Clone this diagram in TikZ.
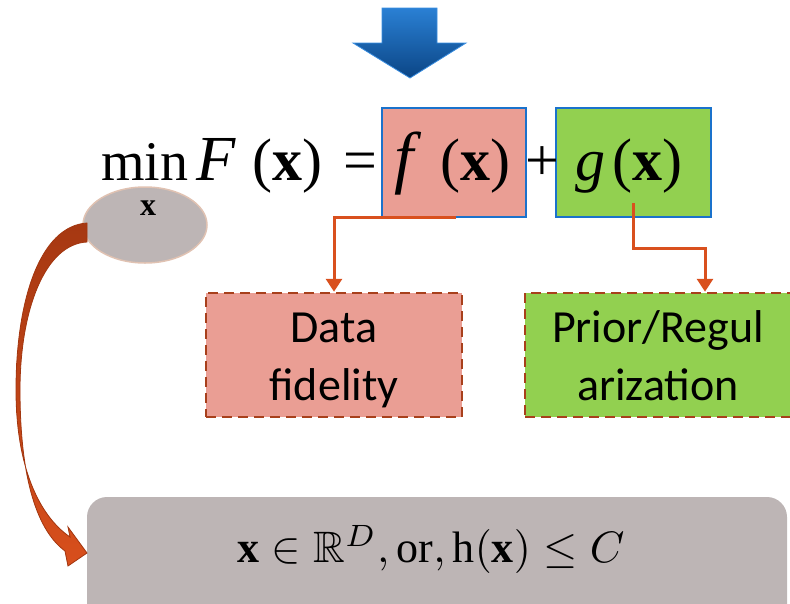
\documentclass[tikz,border=0pt]{standalone}
\usepackage{amssymb}
\usepackage{fontspec}
\setmainfont{Liberation Serif}
\newfontfamily\calfont{Carlito}
\usetikzlibrary{arrows.meta,shapes.geometric}
\definecolor{salmonfill}{HTML}{EA9E94}
\definecolor{greenfill}{HTML}{92D050}
\definecolor{blueborder}{HTML}{1A72CC}
\definecolor{connc}{HTML}{D9501E}
\definecolor{dashc}{HTML}{A8401C}
\definecolor{grayfill}{HTML}{BDB5B5}
\definecolor{ellborder}{HTML}{E0C2B2}
\definecolor{arrtop}{HTML}{2A80D4}
\definecolor{arrbot}{HTML}{0B4585}
\definecolor{arredge}{HTML}{3A8EE0}
\definecolor{ribtop}{HTML}{A63812}
\definecolor{ribbot}{HTML}{D84F1C}
\definecolor{ribedge}{HTML}{A2360F}
\begin{document}
\begin{tikzpicture}[x=1pt,y=-1pt,
  termbox/.style={draw=blueborder, line width=2pt, inner sep=0pt, minimum height=109pt},
  dashbox/.style={draw=dashc, line width=2.5pt, dash pattern=on 10pt off 6pt, inner sep=0pt,
     minimum height=124pt, align=center, font=\calfont\fontsize{46}{58}\selectfont},
  conn/.style={draw=connc, line width=3pt, -{Triangle[width=16pt,length=13pt]}},
  formula/.style={anchor=base west, inner sep=0pt, font=\fontsize{60}{60}\selectfont}
]
\useasboundingbox (0,0) rectangle (790,603);

% blue arrow
\shade[top color=arrtop, bottom color=arrbot, draw=arredge, line width=0.8pt]
  (382,8) -- (437,8) -- (437,43) -- (466,43) -- (410,78) -- (353,43) -- (382,43) -- cycle;

% term boxes
\node[termbox, fill=salmonfill, minimum width=144pt] (fb) at (454,162.5) {};
\node[termbox, fill=greenfill, minimum width=155pt] (gb) at (633.5,162.5) {};

% formula
\node[formula, font=\fontsize{56}{56}\selectfont] (tmin) at (101,180) {min};
\node[formula] (tF) at (196,180) {\itshape\scalebox{1.07}{F}};
\node[formula] (tFx) at (252,180) {(\textbf{x})};
\node[formula] (teq) at (343,180) {=};
\node[formula] (tf) at (394,180) {\itshape\scalebox{1.15}{f}};
\node[formula] (tfx) at (440,180) {(\textbf{x})};
\node[formula] (tplus) at (525,180) {+};
\node[formula] (tg) at (575,180) {\itshape g};
\node[formula] (tgx) at (612,180) {(\textbf{x})};

% ellipse under min
\node[ellipse, fill=grayfill, draw=ellborder, line width=1.5pt, minimum width=124pt, minimum height=76pt] (ell) at (145,225) {};
\node[anchor=base, inner sep=0pt, font=\bfseries\fontsize{32}{32}\selectfont] (ellx) at (148,215) {x};

% dashed boxes
\node[dashbox, fill=salmonfill, minimum width=256pt] (data) at (334,355)
  {\rule{0pt}{42pt}Data\\fidelity\rule[-10pt]{0pt}{10pt}};
\node[dashbox, fill=greenfill, minimum width=266pt] (prior) at (658,355)
  {\rule{0pt}{42pt}Prior/Regul\\arization\rule[-10pt]{0pt}{10pt}};

% connectors
\coordinate (fs) at (456,217);
\draw[conn] (fs) -| (data.north);
\coordinate (gs) at (633.5,203);
\draw[conn] (gs) -- ++(0,45) -| ([xshift=47pt]prior.north);

% bottom constraint box
\node[fill=grayfill, rounded corners=20pt, minimum width=700pt, minimum height=140pt, inner sep=0pt] (cons) at (437,567) {};
\node[anchor=base, inner sep=0pt] (constext) at (431,562)
  {\scalebox{4.4}{$\mathbf{x}\in\mathbb{R}^{D},\mathrm{or},\mathrm{h}(\mathbf{x})\le C$}};

% curved ribbon arrow from ellipse to constraint box
\shade[top color=ribtop, bottom color=ribbot, draw=ribedge, line width=0.8pt]
  (87,223) .. controls (40,226) and (16,300) .. (16,390)
  .. controls (16,465) and (38,515) .. (70,537)
  -- (68,527) -- (87,553) -- (68,566) -- (65,551)
  .. controls (34,528) and (20,470) .. (20,390)
  .. controls (20,310) and (45,244) .. (87,242) -- cycle;
\end{tikzpicture}
\end{document}
